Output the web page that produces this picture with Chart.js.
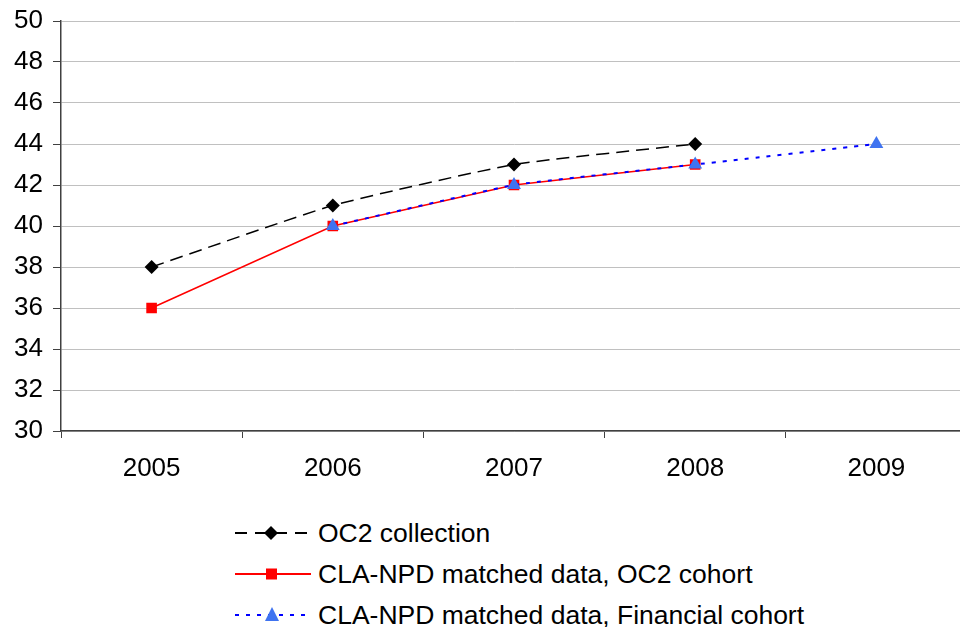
<!DOCTYPE html>
<html><head><meta charset="utf-8">
<script src="https://cdn.jsdelivr.net/npm/chart.js@4/dist/chart.umd.min.js"></script>
<style>
html,body{margin:0;padding:0;background:#fff;overflow:hidden;width:960px;height:627px;}
#wrap{position:absolute;left:0;top:0;width:975px;height:500px;}
#legend{position:absolute;left:235px;top:513px;font-family:"Liberation Sans",Arial,sans-serif;font-size:26.5px;color:#000;}
.row{position:absolute;left:0;height:40px;white-space:nowrap;display:flex;align-items:center;}
.row svg{width:78px;height:20px;margin-right:5px;flex:none;}
</style></head><body>
<div id="wrap"><canvas id="c" width="975" height="500"></canvas></div>
<div id="legend"></div>
<script>
const categories = ["2005","2006","2007","2008","2009"];
const oc2Collection = [38, 41, 43, 44, null];
const claOc2Cohort = [36, 40, 42, 43, null];
const claFinancialCohort = [null, 40, 42, 43, 44];
const seriesNames = ["OC2 collection","CLA-NPD matched data, OC2 cohort","CLA-NPD matched data, Financial cohort"];

const FONT = '"Liberation Sans", Arial, sans-serif';
const ctx = document.getElementById('c');
new Chart(ctx, {
  type: 'line',
  data: {
    labels: categories,
    datasets: [
      {label: seriesNames[0], data: oc2Collection, borderColor:'#000', backgroundColor:'#000', borderWidth:1.5, borderDash:[13,7],
       pointStyle:'rectRot', pointRadius:7, pointBorderWidth:0, tension:0.15, order:2},
      {label: seriesNames[1], data: claOc2Cohort, borderColor:'#ff0000', backgroundColor:'#ff0000', borderWidth:1.5,
       pointStyle:'rect', pointRadius:7.5, pointBorderWidth:0, tension:0, order:1},
      {label: seriesNames[2], data: claFinancialCohort, borderColor:'#0000ff', backgroundColor:'#3f73f0', borderWidth:2, borderDash:[4,7],
       pointStyle:'triangle', pointRadius:8, pointBorderWidth:0, tension:0.1, order:0}
    ]
  },
  options: {
    responsive:false, animation:false,
    layout:{padding:{top:21,left:0,right:4,bottom:0}},
    plugins:{legend:{display:false}, tooltip:{enabled:false}},
    scales:{
      x:{
        offset:true,
        grid:{offset:true, drawOnChartArea:false, drawTicks:true, tickLength:7, color:'#404040'},
        border:{color:'#404040', width:1.5},
        ticks:{font:{family:FONT,size:26}, color:'#000', padding:15, maxRotation:0},
        afterFit:(s)=>{s.height=69;}
      },
      y:{
        min:30, max:50,
        grid:{color:'#c0c0c0', tickColor:'#404040', tickLength:8, drawTicks:true},
        border:{color:'#404040', width:1.5},
        ticks:{stepSize:2, font:{family:FONT,size:26}, color:'#000', padding:10},
        afterFit:(s)=>{s.width=61; s.paddingTop=0; s.paddingBottom=0;}
      }
    }
  }
});

const legendDefs = [
  {svg:'<line x1="0" y1="10" x2="76" y2="10" stroke="#000" stroke-width="2" stroke-dasharray="12,8"/><polygon points="36,3 43,10 36,17 29,10" fill="#000"/>'},
  {svg:'<line x1="0" y1="10" x2="76" y2="10" stroke="#ff0000" stroke-width="2"/><rect x="31" y="4.5" width="11" height="11" fill="#ff0000"/>'},
  {svg:'<line x1="0" y1="10" x2="76" y2="10" stroke="#0000ff" stroke-width="2" stroke-dasharray="4,7"/><polygon points="37,2 44,16 30,16" fill="#3f73f0"/>'}
];
const lg = document.getElementById('legend');
seriesNames.forEach((n,i)=>{
  const r = document.createElement('div');
  r.className='row'; r.style.top=(i*41)+'px';
  r.innerHTML = '<svg viewBox="0 0 78 20">'+legendDefs[i].svg+'</svg><span>'+n+'</span>';
  lg.appendChild(r);
});
</script>
</body></html>
